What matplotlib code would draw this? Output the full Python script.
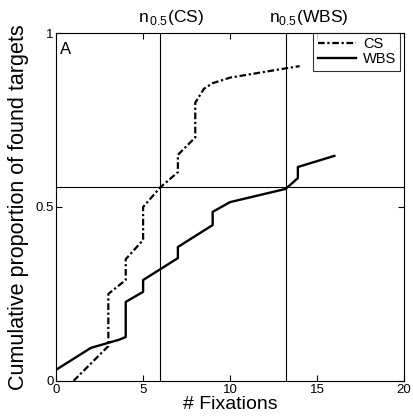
import numpy as np
import matplotlib.pyplot as plt

plt.rcParams['font.family'] = ['Liberation Sans', 'DejaVu Sans']

# cumulative proportion of found targets vs. number of fixations
cs_x = [1, 3, 3, 4, 4, 5, 5, 6, 7, 7, 8, 8, 8.5, 9, 10, 13, 14]
cs_y = [0.0, 0.10, 0.25, 0.29, 0.35, 0.405, 0.50, 0.557, 0.60, 0.65, 0.70, 0.80, 0.84, 0.856, 0.872, 0.897, 0.905]

wbs_x = [0, 2, 3.6, 4, 4, 5, 5, 7, 7, 9, 9, 10, 13.2, 13.9, 13.9, 16]
wbs_y = [0.032, 0.095, 0.118, 0.126, 0.227, 0.256, 0.29, 0.353, 0.385, 0.448, 0.486, 0.514, 0.552, 0.583, 0.615, 0.647]

n05_cs = 6.0
n05_wbs = 13.2
half_level = 0.557

fig = plt.figure(figsize=(4.13, 4.19), dpi=100)
ax = fig.add_axes([0.136, 0.091, 0.842, 0.830])

ax.axvline(n05_cs, color='black', lw=0.8)
ax.axvline(n05_wbs, color='black', lw=0.8)
ax.axhline(half_level, color='black', lw=0.8)

ax.plot(cs_x, cs_y, color='black', lw=1.6, linestyle=(0, (3, 1.2, 1, 1.2)), label='CS')
ax.plot(wbs_x, wbs_y, color='black', lw=1.7, label='WBS')

ax.set_xlim(0, 20)
ax.set_ylim(0, 1)
ax.set_xticks([0, 5, 10, 15, 20])
ax.set_yticks([0, 0.5, 1])
ax.set_yticklabels(['0', '0.5', '1'])
ax.tick_params(direction='in', top=True, right=True, length=4, labelsize=9.5, pad=2)

ax.set_xlabel('# Fixations', fontsize=14, labelpad=0)
ax.set_ylabel('Cumulative proportion of found targets', fontsize=15.5, labelpad=4)

ax.text(0.012, 0.975, 'A', transform=ax.transAxes, fontsize=12, va='top', ha='left')

ax.text(n05_cs + 0.6, 1.045, r'n$_{\,\mathregular{0.5}}$(CS)', ha='center', va='center', fontsize=12.5)
ax.text(n05_wbs + 1.3, 1.045, r'n$_{\mathregular{0.5}}$(WBS)', ha='center', va='center', fontsize=12.5)

leg = ax.legend(loc='upper right', fontsize=10.5, frameon=True, fancybox=False,
                edgecolor='black', handlelength=2.6, borderpad=0.3,
                labelspacing=0.05, borderaxespad=0.0, handletextpad=0.5,
                bbox_to_anchor=(0.99, 1.0))
leg.get_frame().set_linewidth(0.8)

for s in ax.spines.values():
    s.set_linewidth(0.8)

plt.savefig('out.png', dpi=100)
